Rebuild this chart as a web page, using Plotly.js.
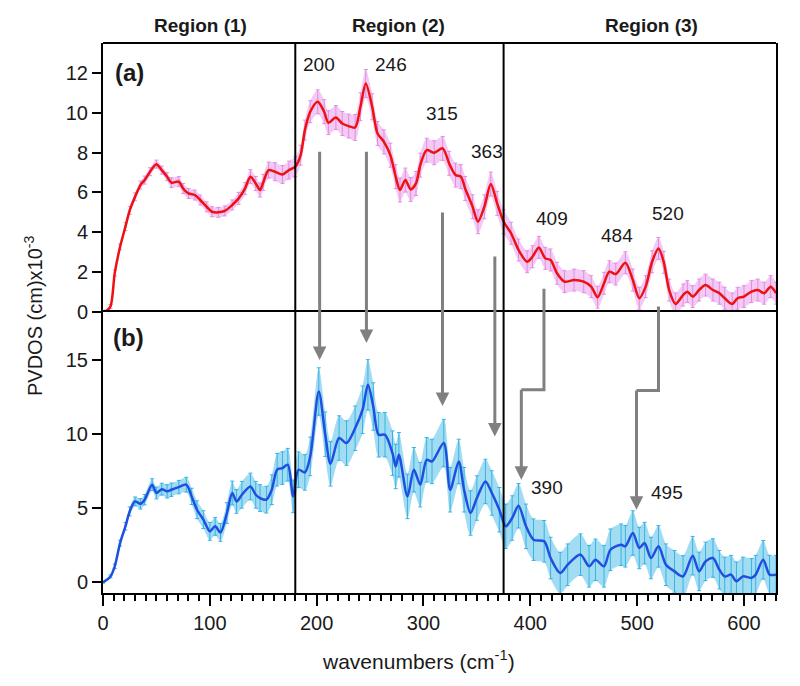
<!DOCTYPE html>
<html>
<head>
<meta charset="utf-8">
<script src="https://cdn.plot.ly/plotly-3.0.1.min.js"></script>
<style>html,body{margin:0;padding:0;background:#fff;}#chart{width:800px;height:686px;}</style>
</head>
<body>
<div id="chart"></div>
<script>
// ---- data ----
var topX = [0,3,7,11,16,21,25,30,35,39,44,50,55,60,64,71,75,80,86,91,97,102,108,114,121,127,133,138,143,147,150,155,161,168,174,180,185,189,194,201,207,211,218,224,230,236,241,246,252,257,263,269,274,278,283,288,293,297,303,310,318,324,330,335,339,346,351,357,363,369,375,382,389,397,402,408,414,419,425,432,441,450,457,463,469,474,480,489,496,502,508,514,520,525,530,536,543,547,552,558,564,571,577,582,589,594,600,607,613,619,625,630];
var topY = [0,0.05,0.27,1.95,3.27,4.28,5.1,5.78,6.37,6.62,7.04,7.42,7.12,6.79,6.49,6.54,6.2,5.95,5.87,5.62,5.28,5.03,5.0,5.07,5.37,5.7,6.2,6.79,6.45,6.12,6.5,7.12,7.04,6.9,7.12,7.29,7.87,9.13,10.05,10.55,10.05,9.5,9.76,9.46,9.33,9.26,10.3,11.47,10.3,8.96,8.54,7.87,6.79,6.12,6.62,6.15,6.45,7.37,8.12,7.99,8.21,7.46,6.87,6.79,6.2,5.28,4.53,5.28,6.42,5.45,4.53,3.95,3.11,2.52,2.77,3.24,2.69,2.61,1.94,1.52,1.6,1.52,1.27,0.74,1.44,2.02,1.9,2.47,1.6,0.69,1.27,2.52,3.19,2.49,1.1,0.4,0.85,1.02,0.77,1.1,1.35,1.1,0.94,0.69,0.4,0.69,0.77,1.02,1.1,0.94,1.27,0.94];
var topErr = [0.05,0.05,0.1,0.15,0.15,0.2,0.2,0.2,0.2,0.2,0.2,
  0.2,0.2,0.2,0.25,0.25,0.25,0.25,0.25,0.25,0.25,
  0.25,0.25,0.25,0.25,0.3,0.3,0.35,0.35,0.35,0.4,0.4,0.45,0.45,0.45,
  0.5,0.5,0.5,0.55,0.6,0.6,0.6,0.6,0.6,0.6,0.65,0.7,0.7,
  0.65,0.6,0.6,0.6,0.6,0.6,0.6,0.6,0.6,0.6,0.6,0.6,0.6,0.6,0.6,0.6,0.6,0.6,0.6,0.6,0.6,0.6,0.6,
  0.55,0.55,0.55,0.55,0.55,0.55,0.55,0.55,0.55,0.55,0.55,0.55,0.55,0.55,0.55,0.55,0.55,0.55,0.55,0.55,
  0.55,0.55,0.55,0.55,0.55,0.55,0.55,0.55,0.55,0.55,0.55,0.55,0.55,0.55,0.55,0.55,0.55,0.55,0.55,0.55,0.55];

var botX = [0,7,11,16,21,25,30,35,39,46,50,55,60,64,71,78,83,88,94,100,105,110,116,121,125,130,138,143,147,153,158,163,168,173,178,183,189,194,202,208,213,221,228,236,243,248,253,258,264,271,274,277,285,291,297,303,308,319,325,333,338,344,350,358,364,371,377,383,389,396,403,413,419,428,435,447,455,461,469,475,485,489,496,502,507,513,520,527,535,543,552,558,564,571,577,582,588,593,599,607,611,618,624,630];
var botY = [0,0.4,1.08,2.65,3.78,4.79,5.46,5.3,5.58,6.59,6.03,6.29,6.14,6.25,6.43,6.59,5.8,4.9,4.23,3.44,3.78,3.37,4.68,6.03,5.46,5.91,6.47,5.91,5.69,5.58,6.25,7.6,7.71,7.94,5.8,7.6,7.42,8.5,12.88,10.0,8.0,9.74,9.4,10.4,11.65,13.33,11.87,9.96,9.96,8.72,7.82,8.61,5.8,7.6,6.59,8.27,8.16,9.4,6.25,8.16,6.25,4.68,5.69,6.81,6.03,4.9,3.78,4.34,5.17,3.78,2.88,2.77,1.64,0.63,1.19,1.87,1.08,1.52,1.08,2.2,2.54,2.43,3.33,2.32,2.65,1.64,2.43,1.19,0.74,0.4,1.8,0.74,1.41,1.64,0.85,0.4,0.52,0.07,0.4,0.3,0.52,1.52,0.52,0.52];
var botErr = [0.05,0.1,0.15,0.2,0.25,0.3,0.3,0.35,0.35,0.4,
  0.4,0.4,0.45,0.45,0.45,0.5,0.55,0.6,0.6,0.6,
  0.6,0.6,0.7,0.8,0.8,0.9,0.9,0.9,0.9,0.9,
  1.0,1.1,1.1,1.1,1.1,1.2,1.2,1.3,1.6,1.5,
  1.5,1.5,1.5,1.5,1.6,1.7,1.6,1.5,1.5,1.5,
  1.5,1.5,1.5,1.5,1.5,1.5,1.5,1.6,1.5,1.5,
  1.5,1.5,1.5,1.5,1.5,1.5,1.5,1.5,1.5,1.5,
  1.4,1.4,1.4,1.4,1.4,1.4,1.4,1.4,1.4,1.4,
  1.4,1.4,1.5,1.4,1.4,1.4,1.4,1.4,1.4,1.4,
  1.3,1.3,1.3,1.3,1.3,1.3,1.3,1.3,1.3,1.3,
  1.3,1.3,1.3,1.3];

var regionBounds = [180, 375];
var regionLabels = ["Region (1)", "Region (2)", "Region (3)"];
var regionLabelX = [91, 277, 513];

var topPeakText = ["200","246","315","363","409","484","520"];
var topPeakX = [202, 270, 317, 359, 420, 481, 529];
var topPeakY = [12.4, 12.4, 9.95, 8.05, 4.7, 3.86, 4.95];
var botPeakText = ["390","495"];
var botPeakX = [416, 528];
var botPeakY = [6.37, 6.07];

// straight arrows: top-panel start -> bottom-panel tip
var arrX = [202.8, 246.6, 317.8, 366.8];
var arrTopY = [8.12, 8.12, 5.07, 2.86];
var arrBotY = [15.0, 16.15, 11.9, 9.85];
// bent arrows
var bentX0 = [412.8, 520];
var bentTopY = [1.17, 0.27];
var bentElbowY = [13.0, 12.95];
var bentX1 = [391.6, 499.4];
var bentBotY = [6.93, 4.9];

// ---- layout geometry ----
var topRange = [0, 13.5];
var botRange = [-0.72, 18.25];
var split = 0.511;
var plotH = 686 - 43 - 93;
function topPaper(v){ return split + (v - topRange[0]) / (topRange[1] - topRange[0]) * (1 - split); }
function botPaper(v){ return (v - botRange[0]) / (botRange[1] - botRange[0]) * split; }

var FONT = "Liberation Sans, Arial, sans-serif";
var TXT = "#1a1a1a";
var SMOOTH = 0.8;

function band(x, y, e, xa, ya, fill){
  var lo = y.map(function(v,i){return v - e[i];});
  var hi = y.map(function(v,i){return v + e[i];});
  return [
    {x:x, y:lo, xaxis:xa, yaxis:ya, mode:"lines", line:{width:0, shape:"spline", smoothing:SMOOTH}, hoverinfo:"skip", showlegend:false},
    {x:x, y:hi, xaxis:xa, yaxis:ya, mode:"lines", line:{width:0, shape:"spline", smoothing:SMOOTH}, fill:"tonexty", fillcolor:fill, hoverinfo:"skip", showlegend:false}
  ];
}

var traces = [];
traces = traces.concat(band(topX, topY, topErr, "x", "y", "rgba(232,150,232,0.5)"));
traces.push({x:topX, y:topY, xaxis:"x", yaxis:"y", mode:"lines",
  line:{color:"#ee1111", width:2.5, shape:"spline", smoothing:SMOOTH},
  error_y:{type:"data", array:topErr, visible:true, color:"#e48ae4", thickness:1, width:2},
  showlegend:false});
traces = traces.concat(band(botX, botY, botErr, "x2", "y2", "rgba(70,185,230,0.5)"));
traces.push({x:botX, y:botY, xaxis:"x2", yaxis:"y2", mode:"lines",
  line:{color:"#1f4fe0", width:2.5, shape:"spline", smoothing:SMOOTH},
  error_y:{type:"data", array:botErr, visible:true, color:"#35b2e6", thickness:1, width:2},
  showlegend:false});

var shapes = [];
// top border of the upper panel
shapes.push({type:"line", xref:"paper", yref:"paper", x0:0, x1:1, y0:1, y1:1, line:{color:"#000", width:2}});
regionBounds.forEach(function(b){
  shapes.push({type:"line", xref:"x2", yref:"paper", x0:b, x1:b, y0:0, y1:1, line:{color:"#000", width:2}});
});
var GRAY = "#808080";
for (var i=0;i<bentX0.length;i++){
  var p = "M" + bentX0[i] + "," + topPaper(bentTopY[i]) + " L" + bentX0[i] + "," + botPaper(bentElbowY[i]) + " L" + bentX1[i] + "," + botPaper(bentElbowY[i]);
  shapes.push({type:"path", xref:"x2", yref:"paper", path:p, line:{color:GRAY, width:3}});
}

var ann = [];
function arrow(x, yStartPaper, yTipPaper){
  ann.push({xref:"x2", yref:"paper", x:x, y:yTipPaper, ax:0, ay:-(yStartPaper - yTipPaper) * plotH,
    axref:"pixel", ayref:"pixel", text:"", showarrow:true, arrowhead:2, arrowsize:0.9, arrowwidth:3, arrowcolor:GRAY, standoff:0, startstandoff:0});
}
for (var i=0;i<arrX.length;i++) arrow(arrX[i], topPaper(arrTopY[i]), botPaper(arrBotY[i]));
for (var i=0;i<bentX0.length;i++) arrow(bentX1[i], botPaper(bentElbowY[i]) + 1.5/plotH, botPaper(bentBotY[i]));

for (var i=0;i<regionLabels.length;i++){
  ann.push({xref:"x2", yref:"paper", x:regionLabelX[i], y:(593-25)/plotH, text:"<b>"+regionLabels[i]+"</b>", showarrow:false,
    font:{family:FONT, size:19, color:TXT}, xanchor:"center", yanchor:"middle"});
}
for (var i=0;i<topPeakText.length;i++){
  ann.push({xref:"x", yref:"y", x:topPeakX[i], y:topPeakY[i], text:topPeakText[i], showarrow:false,
    font:{family:FONT, size:19, color:TXT}, xanchor:"center", yanchor:"middle"});
}
for (var i=0;i<botPeakText.length;i++){
  ann.push({xref:"x2", yref:"y2", x:botPeakX[i], y:botPeakY[i], text:botPeakText[i], showarrow:false,
    font:{family:FONT, size:19, color:TXT}, xanchor:"center", yanchor:"middle"});
}
ann.push({xref:"paper", yref:"paper", x:(129-103)/673, y:(593-72)/plotH, text:"<b>(a)</b>", showarrow:false,
  font:{family:FONT, size:24, color:TXT}, xanchor:"center", yanchor:"middle"});
ann.push({xref:"paper", yref:"paper", x:(128-103)/673, y:(593-337)/plotH, text:"<b>(b)</b>", showarrow:false,
  font:{family:FONT, size:24, color:TXT}, xanchor:"center", yanchor:"middle"});
ann.push({xref:"paper", yref:"paper", x:(33-103)/673, y:(593-316)/plotH, text:"PVDOS (cm)x10<sup>-3</sup>", textangle:-90, showarrow:false,
  font:{family:FONT, size:20, color:TXT}, xanchor:"center", yanchor:"middle"});
ann.push({xref:"paper", yref:"paper", x:(418-103)/673, y:(593-660)/plotH, text:"wavenumbers (cm<sup>-1</sup>)", showarrow:false,
  font:{family:FONT, size:21, color:TXT}, xanchor:"center", yanchor:"middle"});

var axBase = {showline:true, linecolor:"#000", linewidth:2, mirror:true, showgrid:false, zeroline:false,
  tickfont:{family:FONT, size:20, color:TXT}, tickcolor:"#000", tickwidth:2};

var layout = {
  width:800, height:686,
  margin:{l:103, r:24, t:43, b:93, pad:0},
  paper_bgcolor:"#fff", plot_bgcolor:"#fff",
  showlegend:false,
  xaxis: Object.assign({}, axBase, {domain:[0,1], range:[0,630], anchor:"y", matches:"x2", showline:false, mirror:false, showticklabels:false, ticks:""}),
  yaxis: Object.assign({}, axBase, {domain:[split,1], range:topRange, anchor:"x", ticks:"outside", ticklen:9, tickvals:[0,2,4,6,8,10,12]}),
  xaxis2: Object.assign({}, axBase, {domain:[0,1], range:[0,630], anchor:"y2", ticks:"outside", ticklen:11, dtick:100, tick0:0,
    minor:{ticks:"outside", dtick:10, ticklen:6, tickwidth:2, tickcolor:"#000"}}),
  yaxis2: Object.assign({}, axBase, {domain:[0,split], range:botRange, anchor:"x2", ticks:"outside", ticklen:9, tickvals:[0,5,10,15]}),
  shapes:shapes,
  annotations:ann
};

Plotly.newPlot("chart", traces, layout, {staticPlot:true, displayModeBar:false});
</script>
</body>
</html>
